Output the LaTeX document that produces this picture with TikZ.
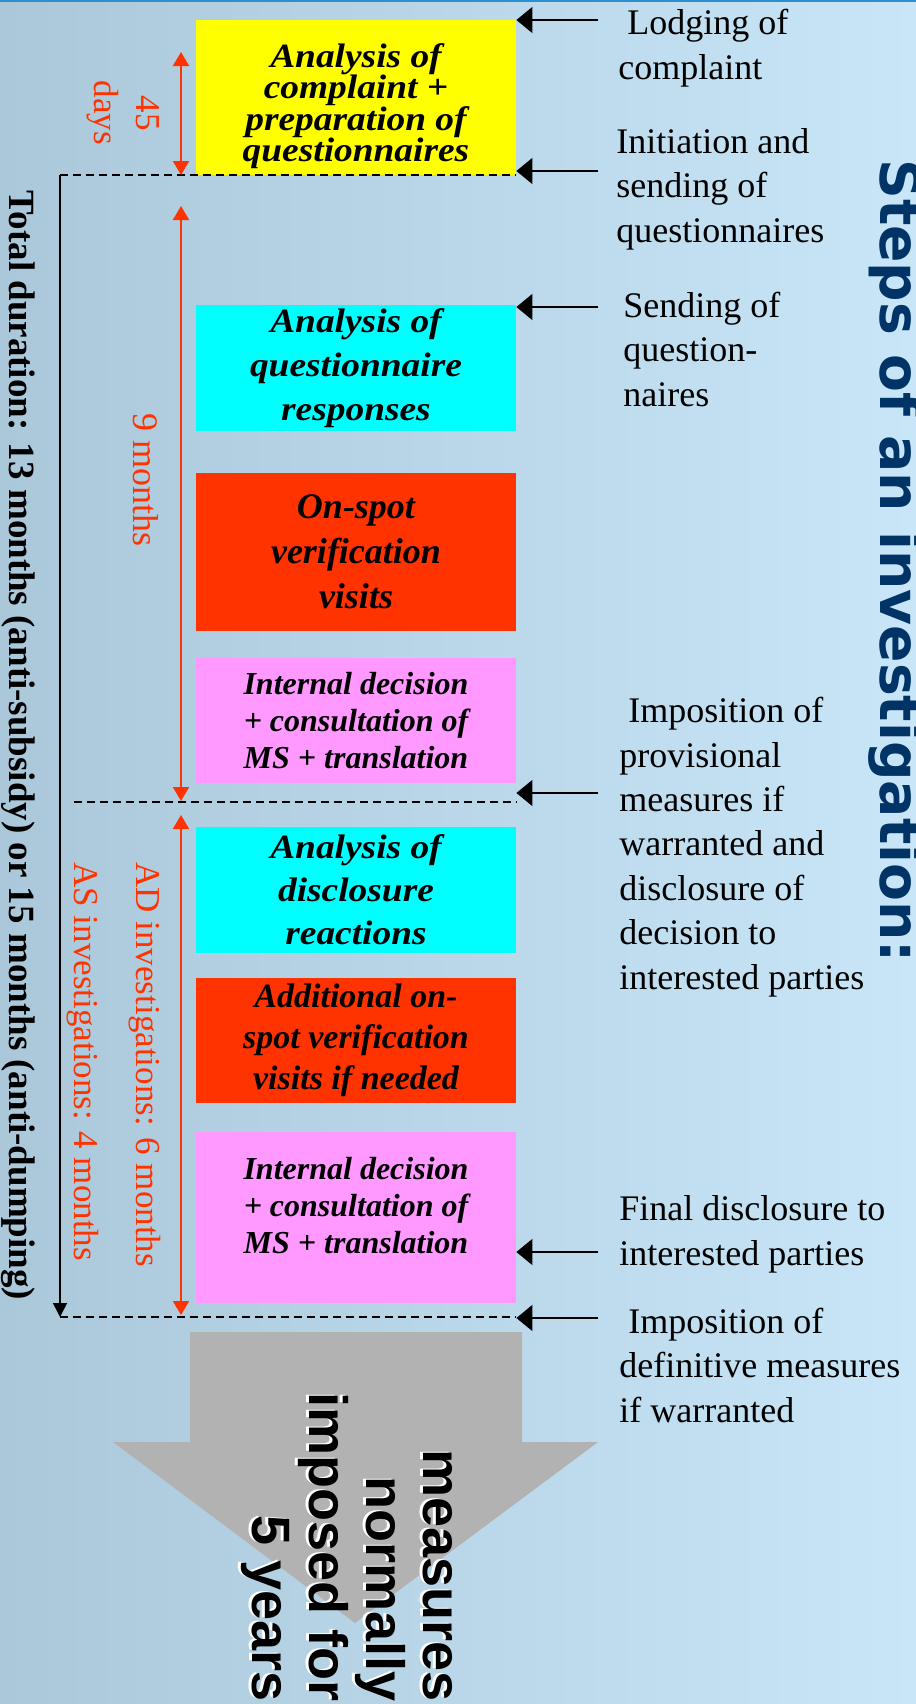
\documentclass[tikz,border=0pt]{standalone}
\usepackage{fontspec}
\setmainfont{Liberation Serif}
\newfontfamily\wideserif{Liberation Serif}[FakeStretch=1.1]
\newfontfamily\titlesans{DejaVu Sans}
\newfontfamily\arrowsans{Liberation Sans}
\usetikzlibrary{arrows.meta}
\definecolor{bgL}{HTML}{AAC8DA}
\definecolor{bgR}{HTML}{C8E6F8}
\definecolor{topline}{HTML}{2E8FCF}
\definecolor{yellowbox}{HTML}{FFFF00}
\definecolor{cyanbox}{HTML}{00FFFF}
\definecolor{redbox}{HTML}{FF3300}
\definecolor{pinkbox}{HTML}{FF99FF}
\definecolor{greyarrow}{HTML}{B2B2B2}
\definecolor{navy}{HTML}{003366}
\definecolor{durred}{HTML}{FF3300}
\begin{document}
\begin{tikzpicture}[x=0.5pt,y=-0.5pt,
  stepbox/.style={inner sep=0pt, minimum width=160pt, align=center, text=black},
  lab/.style={anchor=base west, align=left, inner sep=0pt, font=\fontsize{18pt}{22.2pt}\selectfont},
  arr/.style={-{Triangle[length=8pt,width=13pt]}, line width=0.75pt, black},
  dur/.style={{Triangle[length=7pt,width=8pt]}-{Triangle[length=7pt,width=8pt]}, line width=1pt, durred},
  durlab/.style={rotate=-90, inner sep=0pt, text=durred, font=\fontsize{17.5pt}{21pt}\selectfont},
  sep/.style={dash pattern=on 4pt off 2.5pt, line width=0.65pt, black},
  bigtxt/.style={rotate=-90, anchor=base east, align=right, inner sep=0pt, font=\fontsize{27pt}{28.5pt}\selectfont\arrowsans\bfseries},
]
\useasboundingbox (0,0) rectangle (916,1704);
\shade[left color=bgL, right color=bgR] (0,0) rectangle (916,1704);
\fill[topline] (0,0) rectangle (916,2);

% step boxes
\node[stepbox, fill=yellowbox, minimum height=77.5pt, font=\fontsize{17pt}{15.75pt}\selectfont\wideserif\bfseries\itshape] (b1) at (356,97.5) {\mbox{}\\[5pt]Analysis of\\complaint +\\preparation of\\questionnaires};
\node[stepbox, fill=cyanbox, minimum height=63pt, font=\fontsize{17pt}{22pt}\selectfont\wideserif\bfseries\itshape] (b2) at (356,368) {Analysis of\\questionnaire\\responses};
\node[stepbox, fill=redbox, minimum height=79pt, font=\fontsize{18pt}{22.5pt}\selectfont\bfseries\itshape] (b3) at (356,552) {On-spot\\verification\\visits};
\node[stepbox, fill=pinkbox, minimum height=62.5pt, font=\fontsize{16pt}{18.5pt}\selectfont\bfseries\itshape] (b4) at (356,720.5) {Internal decision\\+ consultation of\\MS + translation};
\node[stepbox, fill=cyanbox, minimum height=63pt, font=\fontsize{17pt}{21.5pt}\selectfont\wideserif\bfseries\itshape] (b5) at (356,890) {Analysis of\\disclosure\\reactions};
\node[stepbox, fill=redbox, minimum height=62.5pt, font=\fontsize{17pt}{20.5pt}\selectfont\bfseries\itshape] (b6) at (356,1040.5) {Additional on-\\spot verification\\visits if needed};
\node[stepbox, fill=pinkbox, minimum height=85.5pt, font=\fontsize{16pt}{18.5pt}\selectfont\bfseries\itshape] (b7) at (356,1217.5) {Internal decision\\+ consultation of\\MS + translation\\[-6pt]\mbox{}};

% dashed separators
\coordinate (d1) at (60,175);
\coordinate (d2) at (74,802);
\coordinate (d3) at (60,1317);
\draw[sep] (d1) -- (d1 -| b1.east);
\draw[sep] (d2) -- (d2 -| b1.east);
\draw[sep] (d3) -- (d3 -| b1.east);

% total duration
\draw[-{Triangle[length=7pt,width=7pt]}, line width=0.75pt] (d1) -- (d3);
\node[rotate=-90, anchor=base west, inner sep=0pt, font=\fontsize{18.5pt}{22pt}\selectfont\bfseries] (tot) at (10,190) {Total duration: 13 months (anti-subsidy) or 15 months (anti-dumping)};

% red duration arrows
\coordinate (r1a) at (181,52);  \coordinate (r1b) at (181,175);
\coordinate (r2a) at (181,206); \coordinate (r2b) at (181,801);
\coordinate (r3a) at (181,815); \coordinate (r3b) at (181,1315);
\draw[dur] (r1a) -- (r1b);
\draw[dur] (r2a) -- (r2b);
\draw[dur] (r3a) -- (r3b);
\node[durlab, anchor=base, align=center] (l45) at (94,113) {45\\days};
\node[durlab, anchor=base west, font=\fontsize{18pt}{21pt}\selectfont] (l9) at (133,413) {9 months};
\node[durlab, anchor=base west, align=left, font=\fontsize{17.5pt}{31.5pt}\selectfont] (lad) at (74,862) {AD investigations: 6 months\\AS investigations: 4 months};

% event arrows
\coordinate (a1) at (598,20);
\coordinate (a2) at (598,171);
\coordinate (a3) at (598,307);
\coordinate (a4) at (598,793);
\coordinate (a5) at (598,1252);
\coordinate (a6) at (598,1318);
\draw[arr] (a1) -- (a1 -| b1.east);
\draw[arr] (a2) -- (a2 -| b1.east);
\draw[arr] (a3) -- (a3 -| b2.east);
\draw[arr] (a4) -- (a4 -| b4.east);
\draw[arr] (a5) -- (a5 -| b7.east);
\draw[arr] (a6) -- (a6 -| b7.east);

% event labels (anchored at the baseline of their last line)
\node[lab] (t1) at (618,79) {\ Lodging of\\complaint};
\node[lab] (t2) at (616,242) {Initiation and\\sending of\\questionnaires};
\node[lab] (t3) at (623,406) {Sending of\\question-\\naires};
\node[lab] (t4) at (619,989) {\ Imposition of\\provisional\\measures if\\warranted and\\disclosure of\\decision to\\interested parties};
\node[lab] (t5) at (619,1265) {Final disclosure to\\interested parties};
\node[lab] (t6) at (619,1422) {\ Imposition of\\definitive measures\\if warranted};

% big grey arrow
\fill[greyarrow] (190,1332) -- (522,1332) -- (522,1442) -- (598,1442) -- (355,1623) -- (113,1442) -- (190,1442) -- cycle;
\node[bigtxt, text=white] (gs) at (249,1701) {measures\\normally\\imposed for\\5 years};
\node[bigtxt, text=black] (gt) at (252,1702) {measures\\normally\\imposed for\\5 years};

% title
\node[rotate=-90, anchor=base west, inner sep=0pt, text=navy, font=\fontsize{27.6pt}{32pt}\selectfont\titlesans\bfseries] (title) at (880,159) {Steps of an investigation:};
\end{tikzpicture}
\end{document}
